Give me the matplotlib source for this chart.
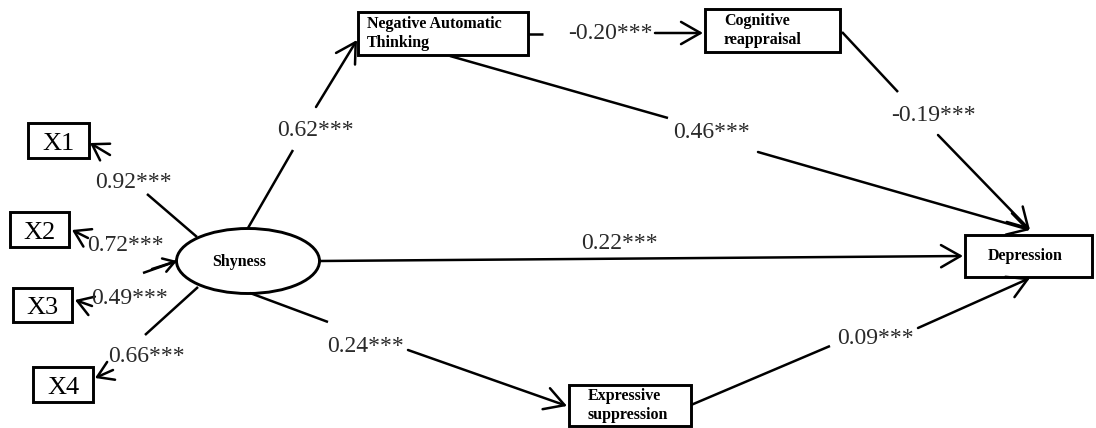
import matplotlib.pyplot as plt
from matplotlib.patches import Rectangle, Ellipse

# path model values
indicators = ["X1", "X2", "X3", "X4"]
loadings = ["0.92***", "0.72***", "0.49***", "0.66***"]
mediators = ["Negative Automatic\nThinking", "Cognitive\nreappraisal", "Expressive\nsuppression"]
latent = "Shyness"
outcome = "Depression"
path_labels = {"shy_nat": "0.62***", "nat_cr": "-0.20***", "nat_dep": "0.46***",
               "cr_dep": "-0.19***", "shy_dep": "0.22***", "shy_es": "0.24***",
               "es_dep": "0.09***"}

# layout (pixel space, y down)
W, H = 1096, 428
LW = 1.8
EDGE_FS = 17
EDGE_COL = "#2a2a2a"

fig = plt.figure(figsize=(W / 100, H / 100), dpi=100)
ax = fig.add_axes([0, 0, 1, 1])
ax.set_xlim(0, W)
ax.set_ylim(H, 0)
ax.axis("off")

serif = ["Liberation Serif", "DejaVu Serif"]


def box(x0, y0, x1, y1, text, fs=11.5, bold=True, tx=None, ha="left", dy=0):
    ax.add_patch(Rectangle((x0, y0), x1 - x0, y1 - y0, fill=False, lw=LW + 0.3, ec="black"))
    if tx is None:
        tx = (x0 + x1) / 2
        ha = "center"
    ax.text(tx, (y0 + y1) / 2 + dy, text, ha=ha, va="center", fontsize=fs, family=serif,
            fontweight="bold" if bold else "normal", linespacing=1.2)


def seg(p, q):
    ax.plot([p[0], q[0]], [p[1], q[1]], color="black", lw=LW, solid_capstyle="butt")


def arrow(p, q, hl=14, hw=8):
    ax.annotate("", xy=q, xytext=p,
                arrowprops=dict(arrowstyle=f"->,head_length={hl/10:.2f},head_width={hw/10:.2f}",
                                lw=LW, color="black", shrinkA=0, shrinkB=0))


def lab(x, y, text):
    ax.text(x, y, text, ha="center", va="center", fontsize=EDGE_FS, family=serif, color=EDGE_COL)


# indicator boxes
ind_boxes = [(28, 123, 89, 158), (10, 212, 69, 247), (13, 288, 72, 322), (33, 367, 93, 402)]
for name, b in zip(indicators, ind_boxes):
    box(*b, name, fs=19, bold=False, dy=3)

# Shyness ellipse
ax.add_patch(Ellipse((248, 261), 143, 65, fill=False, lw=LW + 0.3, ec="black"))
ax.text(239, 262, latent, ha="center", va="center", fontsize=11.5, family=serif, fontweight="bold")

# loadings
seg((197, 237), (147, 194))
arrow((110, 155), (90, 143), hl=11, hw=7)
lab(133, 182, loadings[0])

seg((143, 273), (177, 261))
arrow((152, 269), (177, 261), hl=8, hw=5)
arrow((88, 238), (72, 230), hl=11, hw=7)
lab(125, 245, loadings[1])

arrow((92, 306), (75, 300), hl=11, hw=7)
lab(130, 298, loadings[2])

seg((198, 287), (145, 335))
arrow((113, 370), (95, 378), hl=11, hw=7)
lab(146, 357, loadings[3])

# mediators and outcome
box(358, 12, 528, 55, mediators[0], tx=367)
box(705, 9, 840, 52, mediators[1], tx=724)
box(569, 385, 691, 426, mediators[2], tx=588)
box(965, 235, 1092, 277, outcome, tx=988)

# Shyness -> NAT
seg((248, 228), (293, 150))
lab(315, 130, path_labels["shy_nat"])
arrow((316, 107), (357, 40))

# NAT -> CR
seg((528, 34), (543, 34))
lab(610, 33, path_labels["nat_cr"])
arrow((655, 33), (703, 33))

# NAT -> Depression
seg((450, 56), (668, 118))
lab(712, 133, path_labels["nat_dep"])
arrow((758, 152), (1030, 230))

# CR -> Depression
seg((842, 32), (898, 92))
lab(933, 115, path_labels["cr_dep"])
arrow((938, 135), (1030, 230))

# Shyness -> Depression
arrow((320, 261), (963, 256))
lab(619, 243, path_labels["shy_dep"])

# Shyness -> ES
seg((250, 293), (328, 322))
lab(365, 346, path_labels["shy_es"])
arrow((408, 350), (567, 406))

# ES -> Depression
seg((691, 405), (830, 346))
lab(875, 338, path_labels["es_dep"])
arrow((918, 328), (1030, 278))

fig.savefig("out.png", dpi=100)
